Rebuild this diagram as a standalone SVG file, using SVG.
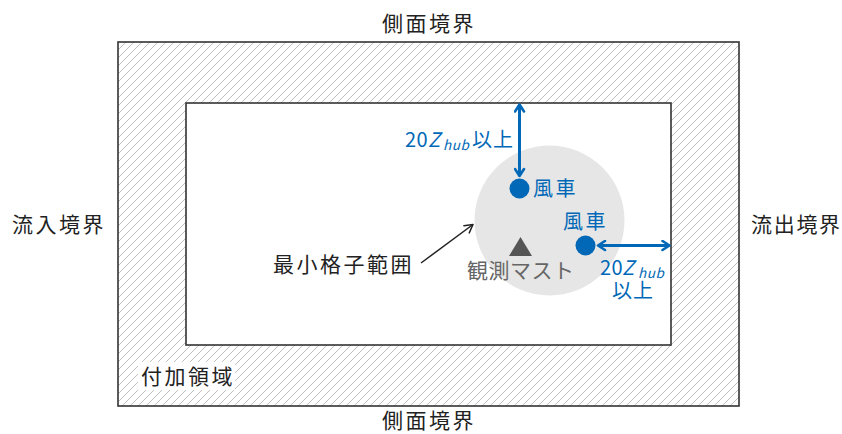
<svg xmlns="http://www.w3.org/2000/svg" width="842" height="434" viewBox="0 0 842 434">
  <style>
    .lbl { font-family: "Noto Sans CJK JP", "Noto Sans", sans-serif; font-size: 21px; fill: #222; letter-spacing: 2.5px; }
    .blue { font-family: "Noto Sans CJK JP", "Noto Sans", sans-serif; font-size: 20px; fill: #0068b7; letter-spacing: 2.5px; }
    .it { font-style: italic; letter-spacing: 0px; }
    .sub { font-size: 13.5px; font-style: italic; letter-spacing: 0.5px; }
    .gray { font-family: "Noto Sans CJK JP", "Noto Sans", sans-serif; font-size: 21px; fill: #666; letter-spacing: 0.5px; }
    .box { stroke: #333; stroke-width: 1.6; }
    .barrow { stroke: #0068b7; stroke-width: 3; fill: none; }
  </style>
  <defs>
    <pattern id="hatch" patternUnits="userSpaceOnUse" width="8" height="8">
      <path d="M-2,2 L2,-2 M0,8 L8,0 M6,10 L10,6" stroke="#b8b8b8" stroke-width="0.9" fill="none"/>
    </pattern>
    <marker id="bhead" viewBox="0 0 12 12" refX="10" refY="6" markerWidth="12" markerHeight="12" markerUnits="userSpaceOnUse" orient="auto-start-reverse">
      <path d="M3,1.5 L10,6 L3,10.5" fill="none" stroke="#0068b7" stroke-width="2.6" stroke-linecap="round" stroke-linejoin="round"/>
    </marker>
    <marker id="khead" viewBox="0 0 12 12" refX="10" refY="6" markerWidth="12" markerHeight="12" markerUnits="userSpaceOnUse" orient="auto">
      <path d="M2,1.5 L10,6 L2,10.5" fill="none" stroke="#222" stroke-width="1.5" stroke-linecap="round" stroke-linejoin="round"/>
    </marker>
  </defs>

  <rect width="842" height="434" fill="#ffffff"/>

  <g id="extra-domain">
    <rect class="box" x="118" y="42" width="621" height="364" fill="url(#hatch)"/>
    <rect x="138" y="362" width="97" height="28" fill="#ffffff"/>
    <text class="lbl" x="141" y="384">付加領域</text>
  </g>

  <g id="min-grid">
    <rect class="box" x="186" y="103" width="485" height="242" fill="#ffffff"/>
  </g>

  <g id="range-circle">
    <circle cx="549.5" cy="220.5" r="75" fill="#e6e6e6"/>
  </g>

  <g id="mast">
    <polygon points="520.5,237 509,256 532,256" fill="#555555"/>
    <text class="gray" x="467" y="278">観測マスト</text>
  </g>

  <g id="turbine-1">
    <circle cx="519.5" cy="188.5" r="10" fill="#0068b7"/>
    <text class="blue" x="533" y="196">風車</text>
  </g>

  <g id="turbine-2">
    <circle cx="585.5" cy="245.5" r="10" fill="#0068b7"/>
    <text class="blue" x="563" y="229">風車</text>
  </g>

  <g id="labels">
    <text class="lbl" x="382" y="31">側面境界</text>
    <text class="lbl" x="382" y="428">側面境界</text>
    <text class="lbl" x="12" y="232">流入境界</text>
    <text class="lbl" x="751" y="232" style="letter-spacing:1.7px">流出境界</text>
    <text class="lbl" x="273" y="272">最小格子範囲</text>
    <text class="blue" y="147"><tspan x="405" style="letter-spacing:0.5px">20</tspan><tspan x="428" class="it">Z</tspan><tspan x="443" dy="3" class="sub">hub</tspan><tspan x="472" dy="-3" style="letter-spacing:1px">以上</tspan></text>
    <text class="blue" y="275"><tspan x="600" style="letter-spacing:0.5px">20</tspan><tspan x="622" class="it">Z</tspan><tspan x="638" dy="3" class="sub">hub</tspan><tspan x="612" y="298" style="letter-spacing:1px">以上</tspan></text>
  </g>

  <g id="connectors">
    <line class="barrow" x1="519.5" y1="104.5" x2="519.5" y2="176" marker-start="url(#bhead)" marker-end="url(#bhead)"/>
    <line class="barrow" x1="598" y1="245.5" x2="669.5" y2="245.5" marker-start="url(#bhead)" marker-end="url(#bhead)"/>
    <line x1="421" y1="263" x2="473" y2="224.5" stroke="#222" stroke-width="1.5" marker-end="url(#khead)"/>
  </g>
</svg>
